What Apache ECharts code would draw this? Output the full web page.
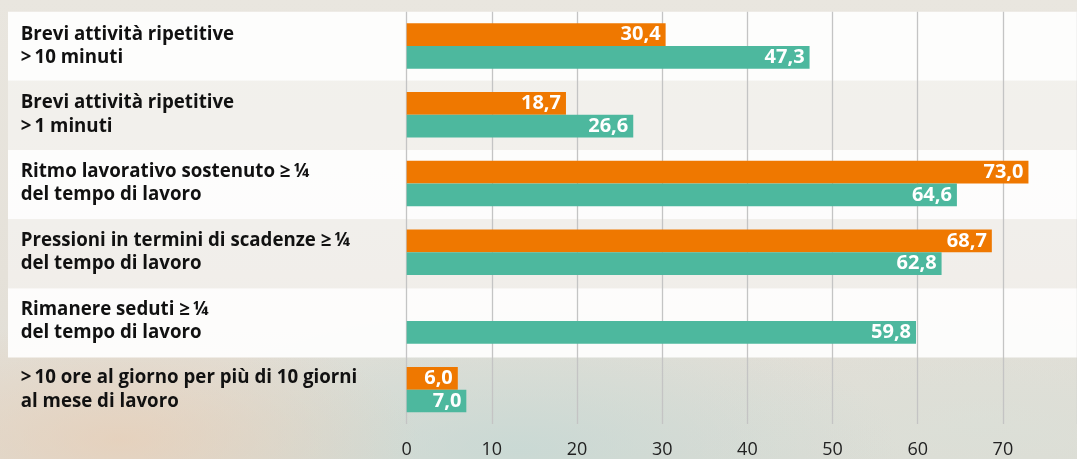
<!DOCTYPE html>
<html>
<head>
<meta charset="utf-8">
<script src="https://cdn.jsdelivr.net/npm/echarts@6/dist/echarts.min.js"></script>
<style>
  html, body {
    margin: 0;
    padding: 0;
  }
  body {
    width: 1077px;
    height: 459px;
    overflow: hidden;
    /* rough imitation of the painted paper behind the chart */
    background:
      radial-gradient(ellipse 300px 120px at 120px 440px, rgba(232, 205, 180, 0.7), rgba(232, 205, 180, 0) 100%),
      radial-gradient(ellipse 380px 140px at 520px 450px, rgba(195, 216, 212, 0.75), rgba(195, 216, 212, 0) 100%),
      radial-gradient(ellipse 300px 120px at 980px 430px, rgba(218, 224, 216, 0.7), rgba(218, 224, 216, 0) 100%),
      linear-gradient(180deg, #e9e6df 0%, #e5e1d9 60%, #dedcd4 100%);
  }
  #main {
    width: 1077px;
    height: 459px;
  }
</style>
</head>
<body>
<div id="main"></div>
<script>
// categorie (dall'alto verso il basso)
const categories = [
  'Brevi attività ripetitive\n>\u200910 minuti',
  'Brevi attività ripetitive\n>\u20091 minuti',
  'Ritmo lavorativo sostenuto \u2265\u2009¼\ndel tempo di lavoro',
  'Pressioni in termini di scadenze \u2265\u2009¼\ndel tempo di lavoro',
  'Rimanere seduti \u2265\u2009¼\ndel tempo di lavoro',
  '>\u200910 ore al giorno per più di 10 giorni\nal mese di lavoro'
];
// valori in %
const orangeValues = [30.4, 18.7, 73.0, 68.7, null, 6.0];
const tealValues = [47.3, 26.6, 64.6, 62.8, 59.8, 7.0];
const xTicks = [0, 10, 20, 30, 40, 50, 60, 70];

const myChart = echarts.init(document.getElementById('main'));
const fontFamily = '"Open Sans", "Noto Sans", sans-serif';

function fmt(p) {
  return p.value == null ? '' : p.value.toFixed(1).replace('.', ',');
}

const valueLabel = {
  show: true,
  position: 'insideRight',
  distance: 5,
  color: '#fff',
  fontSize: 20,
  fontWeight: 'bold',
  fontFamily: fontFamily,
  formatter: fmt
};

const option = {
  backgroundColor: 'transparent',
  animation: false,
  grid: [
    { left: 406.7, right: 0, top: 11.7, height: 415 },
    // second grid only draws the row bands behind labels and bars
    { left: 8, right: 0, top: 11.7, height: 415 }
  ],
  xAxis: [
    {
      gridIndex: 0,
      type: 'value',
      min: 0,
      max: 78.7,
      interval: 10,
      z: 2,
      axisLine: { show: false },
      axisTick: { show: false },
      splitLine: { lineStyle: { color: '#c4c4c4', width: 1.3 } },
      axisLabel: {
        showMaxLabel: false,
        margin: 17,
        color: '#222',
        fontSize: 18,
        fontFamily: fontFamily,
        formatter: function (v) {
          return xTicks.indexOf(v) >= 0 ? String(v) : '';
        }
      }
    },
    { gridIndex: 1, type: 'value', show: false }
  ],
  yAxis: [
    {
      gridIndex: 0,
      type: 'category',
      data: categories,
      inverse: true,
      z: 2,
      axisLine: { show: false },
      axisTick: { show: false },
      splitLine: { show: false },
      axisLabel: {
        align: 'left',
        margin: 386,
        color: '#111',
        fontSize: 18.7,
        fontWeight: 'bold',
        lineHeight: 23.3,
        fontFamily: fontFamily
      }
    },
    {
      gridIndex: 1,
      type: 'category',
      data: categories,
      inverse: true,
      z: 0,
      axisLine: { show: false },
      axisTick: { show: false },
      axisLabel: { show: false },
      splitArea: {
        show: true,
        areaStyle: {
          color: [
            'rgba(255,255,255,0.9)',
            'rgba(255,255,255,0.45)',
            'rgba(255,255,255,0.9)',
            'rgba(255,255,255,0.45)',
            'rgba(255,255,255,0.9)',
            'rgba(255,255,255,0)'
          ]
        }
      }
    }
  ],
  series: [
    {
      name: 'arancio',
      type: 'bar',
      xAxisIndex: 0,
      yAxisIndex: 0,
      data: orangeValues,
      barWidth: 22.7,
      barGap: '0%',
      itemStyle: { color: '#ef7800' },
      label: valueLabel
    },
    {
      name: 'verde',
      type: 'bar',
      xAxisIndex: 0,
      yAxisIndex: 0,
      data: tealValues,
      barWidth: 22.7,
      barGap: '0%',
      itemStyle: { color: '#4db89e' },
      label: valueLabel
    }
  ]
};

myChart.setOption(option);
</script>
</body>
</html>
